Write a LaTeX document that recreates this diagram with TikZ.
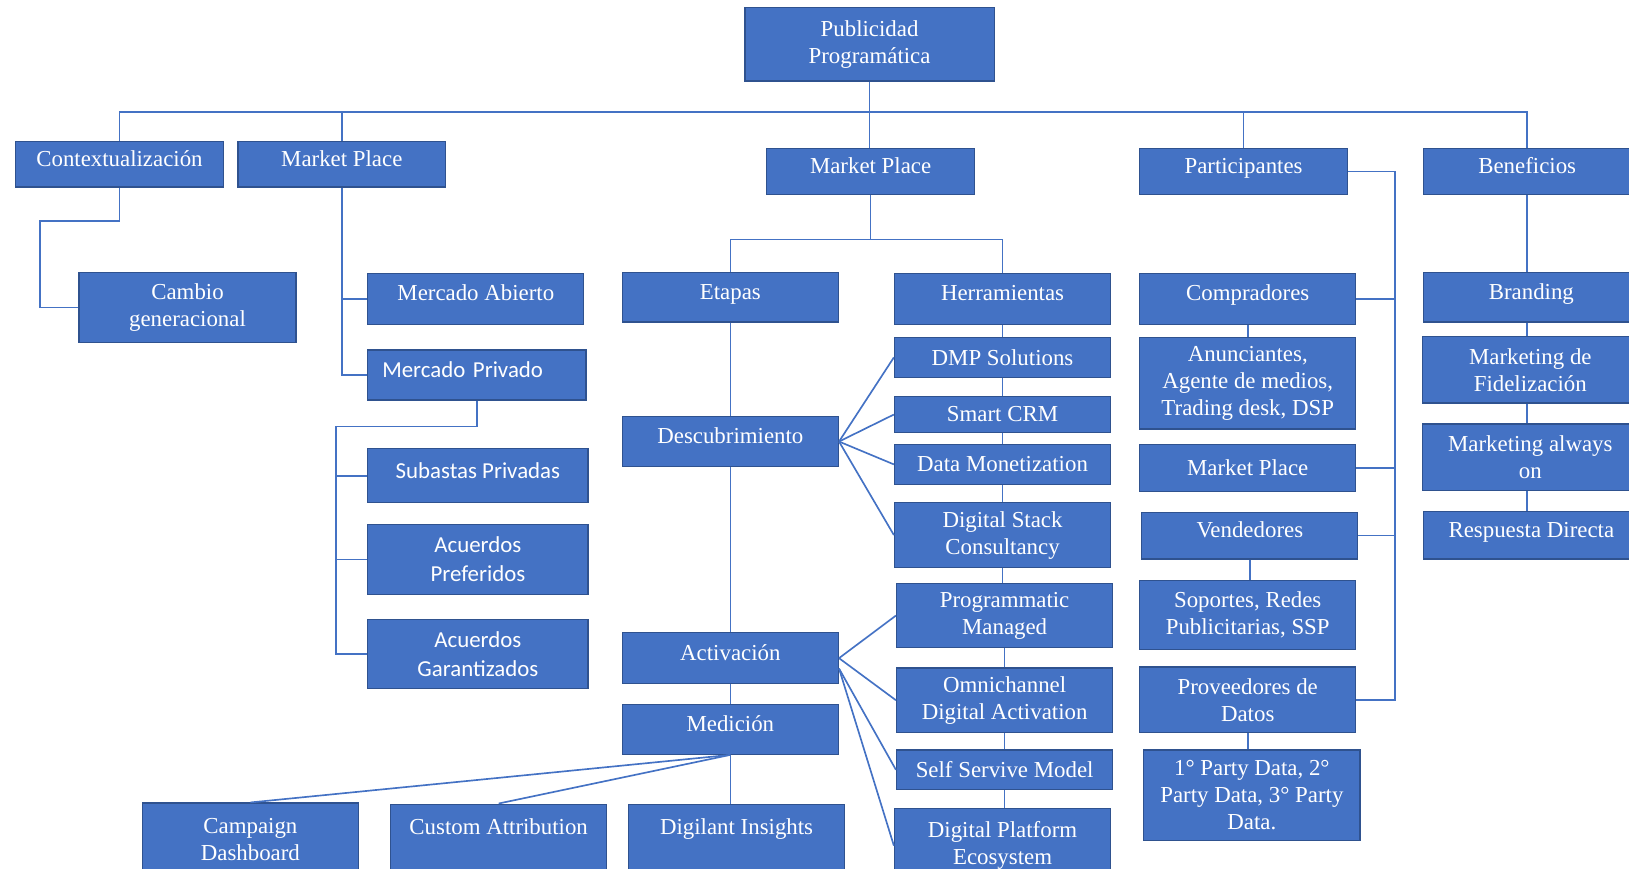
\documentclass[tikz,border=0pt]{standalone}
\usepackage{fontspec}
\setmainfont{Liberation Serif}
\newfontfamily\calibri{Carlito}
\usepackage{tikz}
\usetikzlibrary{positioning}

\definecolor{azul}{HTML}{4472C4}
\definecolor{bordeazul}{HTML}{2F528F}

\begin{document}
\begin{tikzpicture}[x=1pt, y=1pt, caja/.style={rectangle, draw=bordeazul, fill=azul, text=white, line width=1.2pt, inner sep=0pt, align=center, minimum width=208pt, minimum height=#1, font=\fontsize{22}{26}\selectfont}, caja/.default=48pt, uno/.style={text height=15.4pt, text depth=11pt}, sans/.style={font=\calibri\fontsize{22}{28}\selectfont}, linea/.style={draw=azul, line width=1.6pt}]
  \path[use as bounding box] (0,0) rectangle (1568,-836);
  \clip (0,0) rectangle (1568,-836);

  % raiz y primer nivel
  \node[caja=71pt, minimum width=240pt] (pub) at (837,-42.5) {Publicidad\\Programática};
  \node[caja=44pt, minimum width=200pt, uno] (ctx) at (115,-158) {Contextualización};
  \node[caja=44pt, minimum width=200pt, uno] (mp1) at (329,-158) {Market Place};
  \node[caja=44pt, minimum width=200pt, uno] (mp2) at (838,-165) {Market Place};
  \node[caja=44pt, minimum width=200pt, uno] (par) at (1197,-165) {Participantes};
  \node[caja=44pt, minimum width=200pt, uno] (ben) at (1470,-165) {Beneficios};

  % izquierda
  \node[caja=68pt, minimum width=209pt] (cambio) at (180.5,-296) {Cambio\\generacional};
  \node[caja=49pt, uno] (abierto) at (458,-287.5) {Mercado Abierto};
  \node[caja=48pt, minimum width=210pt, uno, sans, text width=182pt, align=left] (privado) at (459,-361) {Mercado Privado};
  \node[caja=52pt, minimum width=212pt, uno, sans] (subastas) at (460,-458) {Subastas Privadas};
  \node[caja=67pt, minimum width=212pt, sans] (preferidos) at (460,-538.5) {Acuerdos\\Preferidos};
  \node[caja=67pt, minimum width=212pt, sans] (garantizados) at (460,-629.5) {Acuerdos\\Garantizados};

  % etapas
  \node[caja=48pt, uno] (etapas) at (703,-286) {Etapas};
  \node[caja=48pt, uno] (desc) at (703,-425) {Descubrimiento};
  \node[caja=49pt, uno] (activ) at (703,-633.5) {Activación};
  \node[caja=48pt, uno] (medic) at (703,-702) {Medición};
  \node[caja=70pt] (campaign) at (241,-808) {Campaign\\Dashboard};
  \node[caja=72pt, text height=15.4pt, text depth=28.8pt] (custom) at (480,-810) {Custom Attribution};
  \node[caja=72pt, text height=15.4pt, text depth=28.8pt] (digilant) at (709,-810) {Digilant Insights};

  % herramientas
  \node[caja=49pt, uno] (herr) at (965,-287.5) {Herramientas};
  \node[caja=38pt] (dmp) at (965,-344) {DMP Solutions};
  \node[caja=34pt] (crm) at (965,-399) {Smart CRM};
  \node[caja=38pt] (datamon) at (965,-447) {Data Monetization};
  \node[caja=62pt] (stack) at (965,-515) {Digital Stack\\Consultancy};
  \node[caja=61pt] (progm) at (967,-592.5) {Programmatic\\Managed};
  \node[caja=62pt] (omni) at (967,-674) {Omnichannel\\Digital Activation};
  \node[caja=38pt] (self) at (967,-741) {Self Servive Model};
  \node[caja=72pt] (dpe) at (965,-814) {Digital Platform\\Ecosystem};

  % participantes
  \node[caja=49pt, uno] (comp) at (1201,-287.5) {Compradores};
  \node[caja=88pt] (anun) at (1201,-369) {Anunciantes,\\Agente de medios,\\Trading desk, DSP};
  \node[caja=45pt] (mp3) at (1201,-450.5) {Market Place};
  \node[caja=45pt, uno] (vend) at (1203,-515.5) {Vendedores};
  \node[caja=66pt] (sop) at (1201,-592) {Soportes, Redes\\Publicitarias, SSP};
  \node[caja=63pt] (prov) at (1201,-673.5) {Proveedores de\\Datos};
  \node[caja=87pt] (party) at (1205,-765.5) {1° Party Data, 2°\\Party Data, 3° Party\\Data.};

  % beneficios
  \node[caja=48pt, uno] (brand) at (1474,-286) {Branding};
  \node[caja=64pt] (fidel) at (1473,-356) {Marketing de\\Fidelización};
  \node[caja=64pt] (always) at (1473,-440) {Marketing always\\on};
  \node[caja=46pt, uno] (resp) at (1474,-515) {Respuesta Directa};

  % conectores
  \coordinate (bus) at (837,-108);
  \draw[linea] (pub.south) -- (pub.south |- mp2.north);
  \draw[linea] (ctx.north) |- (bus) -| (ben.north);
  \draw[linea] (mp1.north) -- (mp1.north |- bus);
  \draw[linea] (par.north) -- (par.north |- bus);

  \draw[linea] (ctx.south) -- ++(0,-32) -| ([xshift=-37]cambio.west) -- (cambio.west);
  \draw[linea] (mp1.south) |- (privado.west);
  \draw[linea] (mp1.south |- abierto.west) -- (abierto.west);
  \draw[linea] (privado.south) -- ++(0,-25) -| ([xshift=-30]garantizados.west) -- (garantizados.west);
  \draw[linea] ([xshift=-30]subastas.west) -- (subastas.west);
  \draw[linea] ([xshift=-30]preferidos.west) -- (preferidos.west);

  \draw[linea] (mp2.south) -- ++(0,-43) coordinate (split);
  \draw[linea] (etapas.north) |- (split) -| (herr.north);
  \draw[linea] (etapas) -- (desc) -- (activ) -- (medic);
  \draw[linea] (medic.south) -- (medic.south |- digilant.north);
  \draw[linea] (medic.south) -- (campaign.north);
  \draw[linea] (medic.south) -- (custom.north);

  \draw[linea] (herr) -- (dmp) -- (crm) -- (datamon) -- (stack);
  \draw[linea] (stack.south) -- (stack.south |- progm.north);
  \draw[linea] (progm) -- (omni) -- (self);
  \draw[linea] (self.south) -- (self.south |- dpe.north);
  \draw[linea] (desc.east) -- (dmp.west);
  \draw[linea] (desc.east) -- (crm.west);
  \draw[linea] (desc.east) -- (datamon.west);
  \draw[linea] (desc.east) -- (stack.west);
  \draw[linea] (activ.east) -- (progm.west);
  \draw[linea] (activ.east) -- (omni.west);
  \draw[linea] ([yshift=-10]activ.east) -- (self.west);
  \draw[linea] ([yshift=-10]activ.east) -- (dpe.west);

  \draw[linea] (par.east) -- ++(45,0) coordinate (pv) |- (prov.east);
  \draw[linea] (pv |- comp.east) -- (comp.east);
  \draw[linea] (pv |- mp3.east) -- (mp3.east);
  \draw[linea] (pv |- vend.east) -- (vend.east);
  \draw[linea] (comp) -- (anun);
  \draw[linea] (vend.south) -- (vend.south |- sop.north);
  \draw[linea] (prov.south) -- (prov.south |- party.north);

  \draw[linea] (ben.south) -- (ben.south |- brand.north);
  \draw[linea] (brand.south -| ben.south) -- (fidel.north -| ben.south);
  \draw[linea] (fidel.south -| ben.south) -- (always.north -| ben.south);
  \draw[linea] (always.south -| ben.south) -- (resp.north -| ben.south);
\end{tikzpicture}
\end{document}
